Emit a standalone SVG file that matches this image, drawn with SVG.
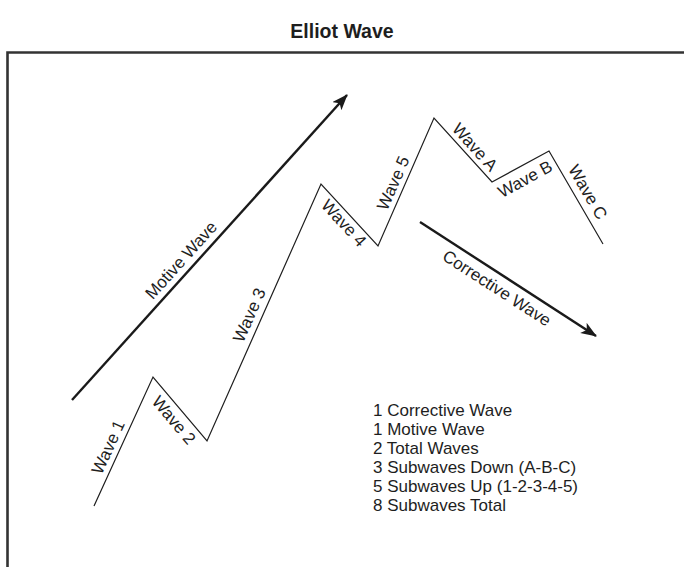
<svg xmlns="http://www.w3.org/2000/svg" width="684" height="567" viewBox="0 0 684 567">
<style>
text{font-family:"Liberation Sans",Arial,Helvetica,sans-serif;fill:#1e1e1e}
.title{font-size:19.5px;font-weight:bold}
.lbl{font-size:17px;text-anchor:middle}
.list{font-size:17px}
.wave{fill:none;stroke:#1e1e1e;stroke-width:1.2;stroke-linejoin:miter}
.big{fill:none;stroke:#1a1a1a;stroke-width:2.4}
.frame{fill:none;stroke:#333;stroke-width:2.6}
</style>
<defs>
<marker id="ah" markerUnits="userSpaceOnUse" markerWidth="18" markerHeight="14" refX="15" refY="6" orient="auto">
<path d="M0,0 L16,6 L0,12 L4,6 z" fill="#1a1a1a"/>
</marker>
</defs>
<text class="title" x="342" y="38" text-anchor="middle">Elliot Wave</text>
<path class="frame" d="M7.5,567 V52.5 H684"/>
<g id="connectors">
<polyline id="wave-line" class="wave" points="94,506 153,377 207,441 321,184 378,246 434,118 492,182 549,151 603,244"/>
<line id="motive-arrow" class="big" x1="72" y1="400" x2="347" y2="95" marker-end="url(#ah)"/>
<line id="corrective-arrow" class="big" x1="420" y1="222" x2="596" y2="336" marker-end="url(#ah)"/>
</g>
<g id="label-motive"><text class="lbl" transform="translate(181,260) rotate(-48)" dy="0.35em">Motive Wave</text></g>
<g id="label-wave1"><text class="lbl" transform="translate(108,447) rotate(-65.4)" dy="0.35em">Wave 1</text></g>
<g id="label-wave2"><text class="lbl" transform="translate(174,420) rotate(49.8)" dy="0.35em">Wave 2</text></g>
<g id="label-wave3"><text class="lbl" transform="translate(249,315) rotate(-66.1)" dy="0.35em">Wave 3</text></g>
<g id="label-wave4"><text class="lbl" transform="translate(344,223) rotate(47.4)" dy="0.35em">Wave 4</text></g>
<g id="label-wave5"><text class="lbl" transform="translate(393,183) rotate(-66.4)" dy="0.35em">Wave 5</text></g>
<g id="label-waveA"><text class="lbl" transform="translate(475,147) rotate(47.8)" dy="0.35em">Wave A</text></g>
<g id="label-waveB"><text class="lbl" transform="translate(525,179) rotate(-28.5)" dy="0.35em">Wave B</text></g>
<g id="label-waveC"><text class="lbl" transform="translate(588,192) rotate(59.9)" dy="0.35em">Wave C</text></g>
<g id="label-corrective"><text class="lbl" transform="translate(497,288) rotate(32.9)" dy="0.35em">Corrective Wave</text></g>
<g id="summary">
<text class="list" x="373" y="416">1 Corrective Wave</text>
<text class="list" x="373" y="435">1 Motive Wave</text>
<text class="list" x="373" y="454">2 Total Waves</text>
<text class="list" x="373" y="473">3 Subwaves Down (A-B-C)</text>
<text class="list" x="373" y="492">5 Subwaves Up (1-2-3-4-5)</text>
<text class="list" x="373" y="511">8 Subwaves Total</text>
</g>
</svg>
